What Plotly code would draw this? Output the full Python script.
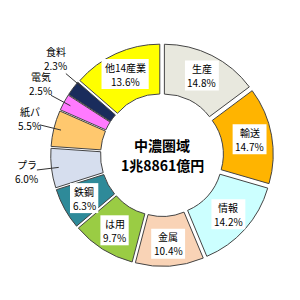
import math
import plotly.graph_objects as go

labels = ["生産", "輸送", "情報", "金属", "は用", "鉄鋼", "プラ", "紙パ", "電気", "食料", "他14産業"]
values = [14.8, 14.7, 14.2, 10.4, 9.7, 6.3, 6.0, 5.5, 2.5, 2.3, 13.6]
colors = ["#E8E8DE", "#FFB400", "#CCFFFF", "#F9D3B6", "#9ACC44", "#2E8A99",
          "#D6DEEE", "#FFC86E", "#FF7AFF", "#1A2C5C", "#FFFF00"]
outside = ["プラ", "紙パ", "電気", "食料"]
center_title = "中濃圏域"
center_total = "1兆8861億円"

W = H = 300
CX, CY = 162, 155      # pie centre in pixels (from top-left)
R = 106                # pie radius in pixels
PULL = 0.05
HOLE = 0.53
FS = 10                # label font size
LINE_GAP = 7           # half distance between the two label lines (px)

half = R * (1 + PULL)
dom_x = [(CX - half) / W, (CX + half) / W]
dom_y = [1 - (CY + half) / H, 1 - (CY - half) / H]

fig = go.Figure(go.Pie(
    labels=labels, values=values, sort=False, direction="clockwise", rotation=0,
    hole=HOLE, pull=[PULL] * len(values), textinfo="none", hoverinfo="label+percent",
    marker=dict(colors=colors, line=dict(color="#444444", width=1)),
    domain=dict(x=dom_x, y=dom_y), showlegend=False,
))


def pix(deg, r):
    a = math.radians(deg)
    return CX + r * math.sin(a), CY - r * math.cos(a)


def paper(px, py):
    return px / W, 1 - py / H


def text_w(s):
    w = 0.0
    for ch in s:
        if ord(ch) > 0x2000:
            w += FS
        elif ch == ".":
            w += FS * 0.28
        elif ch == "%":
            w += FS * 0.83
        else:
            w += FS * 0.56
    return w


def two_line(cx, cy, name, pct, xanchor="center"):
    for txt, dy in ((name, -LINE_GAP), (pct, LINE_GAP)):
        x, y = paper(cx, cy + dy)
        fig.add_annotation(x=x, y=y, xref="paper", yref="paper", text=txt, showarrow=False,
                           xanchor=xanchor, yanchor="middle",
                           font=dict(family="Noto Sans CJK JP", size=FS, color="#000000"))


total = sum(values)
mids = []
cum = 0.0
for v in values:
    mids.append((cum + v / 2) / total * 360)
    cum += v

# spread outside-label angles so neighbouring labels do not collide
label_ang = {}
prev = None
for lab, m in zip(labels, mids):
    if lab in outside:
        ang = m
        if prev is not None and ang - prev < 12:
            ang = prev + 12
        label_ang[lab] = ang
        prev = ang

for lab, v, m in zip(labels, values, mids):
    pct = f"{v:.1f}%"
    if lab in outside:
        ang = label_ang[lab]
        x0, y0 = pix(ang, 104)
        x1, y1 = pix(ang, 126)
        p0, p1 = paper(x0, y0), paper(x1, y1)
        fig.add_shape(type="line", xref="paper", yref="paper",
                      x0=p0[0], y0=p0[1], x1=p1[0], y1=p1[1],
                      line=dict(color="#333333", width=1))
        off = 22 * math.cos(math.radians(ang)) + 1
        wmax = max(text_w(lab), text_w(pct))
        two_line(x1 + 1 - wmax / 2, y1 - off, lab, pct)
    else:
        cx, cy = pix(m, 89)
        bw = max(text_w(lab), text_w(pct)) + 6
        bh = 30
        a0, b0 = paper(cx - bw / 2, cy + bh / 2)
        a1, b1 = paper(cx + bw / 2, cy - bh / 2)
        fig.add_shape(type="rect", xref="paper", yref="paper", x0=a0, y0=b0, x1=a1, y1=b1,
                      fillcolor="#FFFFFF", line=dict(width=0), layer="above")
        two_line(cx, cy, lab, pct)

for txt, dy in ((center_title, -10), (center_total, 10)):
    x, y = paper(CX, CY + dy)
    fig.add_annotation(x=x, y=y, xref="paper", yref="paper", xanchor="center", yanchor="middle",
                       text=f"<b>{txt}</b>", showarrow=False,
                       font=dict(family="Noto Sans CJK JP", size=14, color="#000000"))

fig.update_layout(width=W, height=H, margin=dict(l=0, r=0, t=0, b=0),
                  paper_bgcolor="#FFFFFF", plot_bgcolor="#FFFFFF")
fig.write_html("out.html")
